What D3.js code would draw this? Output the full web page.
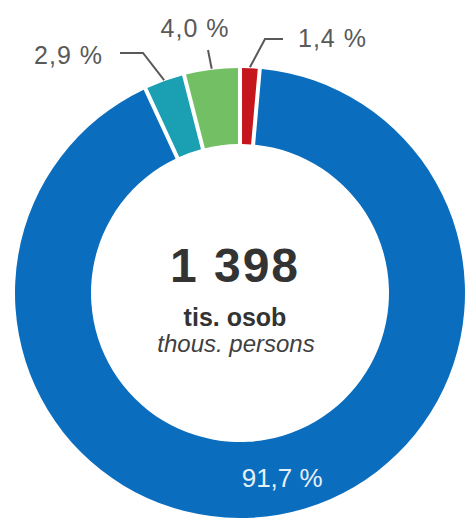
<!DOCTYPE html>
<html>
<head>
<meta charset="utf-8">
<script src="https://cdn.jsdelivr.net/npm/d3@7"></script>
<style>
  body { margin: 0; background: #fff; }
  svg { display: block; font-family: "Liberation Sans", Arial, sans-serif; }
</style>
</head>
<body>
<div id="donut"></div>
<script>
// Data (shares in %, clockwise from 12 o'clock)
const categories = ["red", "blue", "teal", "green"];
const shares = [1.4, 91.7, 2.9, 4.0];
const shareLabels = ["1,4 %", "91,7 %", "2,9 %", "4,0 %"];
const totalValue = "1 398";
const unitCz = "tis. osob";
const unitEn = "thous. persons";

// Layout
const width = 465;
const height = 518;
const cx = 240, cy = 293;
const outerR = 225, innerR = 149;

const color = d3.scaleOrdinal()
  .domain(categories)
  .range(["#c4161c", "#0a6dbd", "#1a9fb3", "#72bf64"]);

// leader elbows / text anchors relative to centre (null = label inside ring)
const labelLayout = [
  { elbow: [25, -254], end: [43, -254], text: [58, -246], anchor: "start" },
  null,
  { elbow: [-97, -240], end: [-120, -240], text: [-137, -229], anchor: "end" },
  { elbow: [-32, -243], end: [-32, -243], text: [-45, -256], anchor: "middle" }
];

const svg = d3.select("#donut")
  .append("svg")
  .attr("width", width)
  .attr("height", height)
  .append("g")
  .attr("transform", `translate(${cx},${cy})`);

const pie = d3.pie()
  .sort(null)
  .value(d => d.value);

const arc = d3.arc()
  .innerRadius(innerR)
  .outerRadius(outerR)
  .padAngle(0.015);

const arcs = pie(categories.map((c, i) => ({ cat: c, value: shares[i], label: shareLabels[i] })));

// Slices
svg.selectAll("path.slice")
  .data(arcs)
  .enter()
  .append("path")
  .attr("class", "slice")
  .attr("d", arc)
  .attr("fill", d => color(d.data.cat));

// Leader lines and outside labels
arcs.forEach((d, i) => {
  const lay = labelLayout[i];
  if (!lay) {
    const [x, y] = arc.centroid(d);
    svg.append("text")
      .attr("x", x + 10)
      .attr("y", y + 10)
      .attr("text-anchor", "middle")
      .attr("fill", "#e6eff8")
      .style("font-size", "26px")
      .text(d.data.label);
    return;
  }
  const mid = (d.startAngle + d.endAngle) / 2;
  const start = [Math.sin(mid) * (outerR + 1), -Math.cos(mid) * (outerR + 1)];

  svg.append("path")
    .attr("d", d3.line()([start, lay.elbow, lay.end]))
    .attr("fill", "none")
    .attr("stroke", "#595959")
    .attr("stroke-width", 2);

  svg.append("text")
    .attr("x", lay.text[0])
    .attr("y", lay.text[1])
    .attr("text-anchor", lay.anchor)
    .attr("fill", "#595959")
    .style("font-size", "25px")
    .style("letter-spacing", "1px")
    .text(d.data.label);
});

// Centre text
svg.append("text")
  .attr("x", -5)
  .attr("y", -11)
  .attr("text-anchor", "middle")
  .attr("fill", "#333")
  .style("font-size", "48px")
  .style("font-weight", "bold")
  .style("letter-spacing", "2px")
  .text(totalValue);

svg.append("text")
  .attr("x", -5)
  .attr("y", 33)
  .attr("text-anchor", "middle")
  .attr("fill", "#333")
  .style("font-size", "25px")
  .style("font-weight", "bold")
  .text(unitCz);

svg.append("text")
  .attr("x", -4)
  .attr("y", 59)
  .attr("text-anchor", "middle")
  .attr("fill", "#404040")
  .style("font-size", "24px")
  .style("font-style", "italic")
  .text(unitEn);
</script>
</body>
</html>
